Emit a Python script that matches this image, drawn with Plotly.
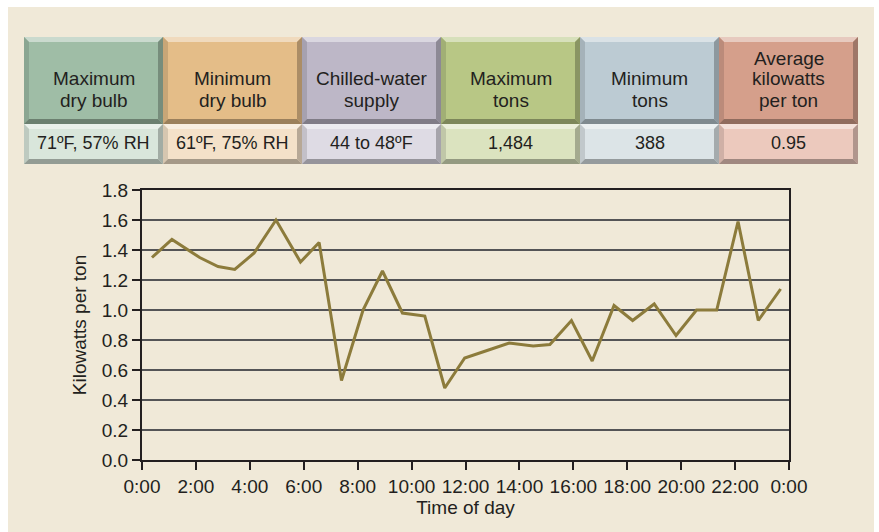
import plotly.graph_objects as go

# Hourly chiller efficiency over one day
hours = [0.37, 1.11, 2.14, 2.82, 3.44, 4.16, 4.97, 5.88, 6.57, 7.40, 8.20, 8.92,
         9.66, 10.49, 11.23, 11.97, 12.80, 13.62, 14.51, 15.13, 15.93, 16.70,
         17.51, 18.20, 19.00, 19.81, 20.57, 21.32, 22.11, 22.86, 23.69]
kw_per_ton = [1.35, 1.47, 1.35, 1.29, 1.27, 1.38, 1.60, 1.32, 1.45, 0.53, 1.00, 1.26,
              0.98, 0.96, 0.48, 0.68, 0.73, 0.78, 0.76, 0.77, 0.93, 0.66,
              1.03, 0.93, 1.04, 0.83, 1.00, 1.00, 1.59, 0.93, 1.14]

x_tick_vals = [0, 2, 4, 6, 8, 10, 12, 14, 16, 18, 20, 22, 24]
x_tick_text = ["0:00", "2:00", "4:00", "6:00", "8:00", "10:00", "12:00",
               "14:00", "16:00", "18:00", "20:00", "22:00", "0:00"]

# Summary table above the chart
summary_titles = [["Maximum", "dry bulb"], ["Minimum", "dry bulb"],
                  ["Chilled-water", "supply"], ["Maximum", "tons"],
                  ["Minimum", "tons"], ["Average", "kilowatts", "per ton"]]
summary_values = ["71ºF, 57% RH", "61ºF, 75% RH", "44 to 48ºF", "1,484", "388", "0.95"]
title_faces = ["#9fbda6", "#e4bd88", "#bdb7c7", "#b8c785", "#bccbd3", "#d59f8b"]
value_faces = ["#d9e6db", "#f4e1c9", "#dedbe4", "#dbe3bf", "#dce4e7", "#ecc9bd"]

W, H = 879, 532
PL, PR, PT, PB = 142, 789, 190, 460  # plot area in pixels
FONT = "Liberation Sans, Arial, sans-serif"
INK = "#231f20"


def px(x):
    return (x - PL) / (PR - PL)


def py(y):
    return (PB - y) / (PB - PT)


def shade(hex_color, f):
    """f>0 lightens toward white, f<0 darkens toward black."""
    h = hex_color.lstrip("#")
    r, g, b = (int(h[i:i + 2], 16) for i in (0, 2, 4))
    if f >= 0:
        r, g, b = (int(c + (255 - c) * f) for c in (r, g, b))
    else:
        r, g, b = (int(c * (1 + f)) for c in (r, g, b))
    return f"rgb({r},{g},{b})"


def poly(points, color):
    d = "M " + " L ".join(f"{px(x):.5f},{py(y):.5f}" for x, y in points) + " Z"
    return dict(type="path", xref="paper", yref="paper", path=d,
                fillcolor=color, line=dict(width=0), layer="below")


shapes = [dict(type="rect", xref="paper", yref="paper",
               x0=px(8), x1=px(874), y0=py(7), y1=py(540),
               fillcolor="#f0e9d8", line=dict(width=0), layer="below")]


def bevel_box(x0, y0, x1, y1, face, b=5):
    return [
        poly([(x0, y0), (x1, y0), (x1, y1), (x0, y1)], face),
        poly([(x0, y0), (x1, y0), (x1 - b, y0 + b), (x0 + b, y0 + b)], shade(face, 0.45)),
        poly([(x0, y0), (x0 + b, y0 + b), (x0 + b, y1 - b), (x0, y1)], shade(face, -0.12)),
        poly([(x1, y0), (x1, y1), (x1 - b, y1 - b), (x1 - b, y0 + b)], shade(face, -0.25)),
        poly([(x0, y1), (x1, y1), (x1 - b, y1 - b), (x0 + b, y1 - b)], shade(face, -0.32)),
    ]


annotations = []
box_left, box_right = 24, 858
box_w = (box_right - box_left) / len(summary_titles)
row1_top, row_mid, row2_bot = 37, 124, 164
for i, (lines, val) in enumerate(zip(summary_titles, summary_values)):
    x0 = box_left + i * box_w
    x1 = x0 + box_w
    shapes += bevel_box(x0, row1_top, x1, row_mid, title_faces[i])
    shapes += bevel_box(x0, row_mid, x1, row2_bot, value_faces[i])
    cx = (x0 + x1) / 2
    ys = [78, 100] if len(lines) == 2 else [58, 79, 100]
    for txt, yy in zip(lines, ys):
        annotations.append(dict(x=px(cx), y=py(yy), xref="paper", yref="paper",
                                text=txt, showarrow=False, xanchor="center",
                                yanchor="middle", font=dict(size=19, color=INK, family=FONT)))
    annotations.append(dict(x=px(cx), y=py(143), xref="paper", yref="paper",
                            text=val, showarrow=False, xanchor="center",
                            yanchor="middle", font=dict(size=18, color=INK, family=FONT)))

fig = go.Figure()
fig.add_trace(go.Scatter(x=hours, y=kw_per_ton, mode="lines",
                         line=dict(color="#8c7b3b", width=3), hoverinfo="skip"))

fig.update_layout(
    width=W, height=H,
    margin=dict(l=PL, r=W - PR, t=PT, b=H - PB),
    paper_bgcolor="white", plot_bgcolor="white",
    showlegend=False,
    shapes=shapes, annotations=annotations,
    font=dict(family=FONT, color=INK, size=19),
)
fig.update_xaxes(range=[0, 24], tickvals=x_tick_vals, ticktext=x_tick_text,
                 tickangle=0,
                 ticks="outside", ticklen=8, tickwidth=1.5, tickcolor=INK,
                 showgrid=False, zeroline=False,
                 showline=True, linecolor=INK, linewidth=2, mirror=True,
                 tickfont=dict(size=19, color=INK, family=FONT),
                 title=dict(text="Time of day", standoff=4,
                            font=dict(size=19, color=INK, family=FONT)))
fig.update_yaxes(range=[0, 1.8], dtick=0.2, tickformat=".1f",
                 ticks="outside", ticklen=8, tickwidth=1.5, tickcolor=INK,
                 showgrid=True, gridcolor="#545456", gridwidth=2, zeroline=False,
                 showline=True, linecolor=INK, linewidth=2, mirror=True,
                 tickfont=dict(size=19, color=INK, family=FONT),
                 title=dict(text="Kilowatts per ton", standoff=10,
                            font=dict(size=19, color=INK, family=FONT)))

fig.write_html("out.html")
